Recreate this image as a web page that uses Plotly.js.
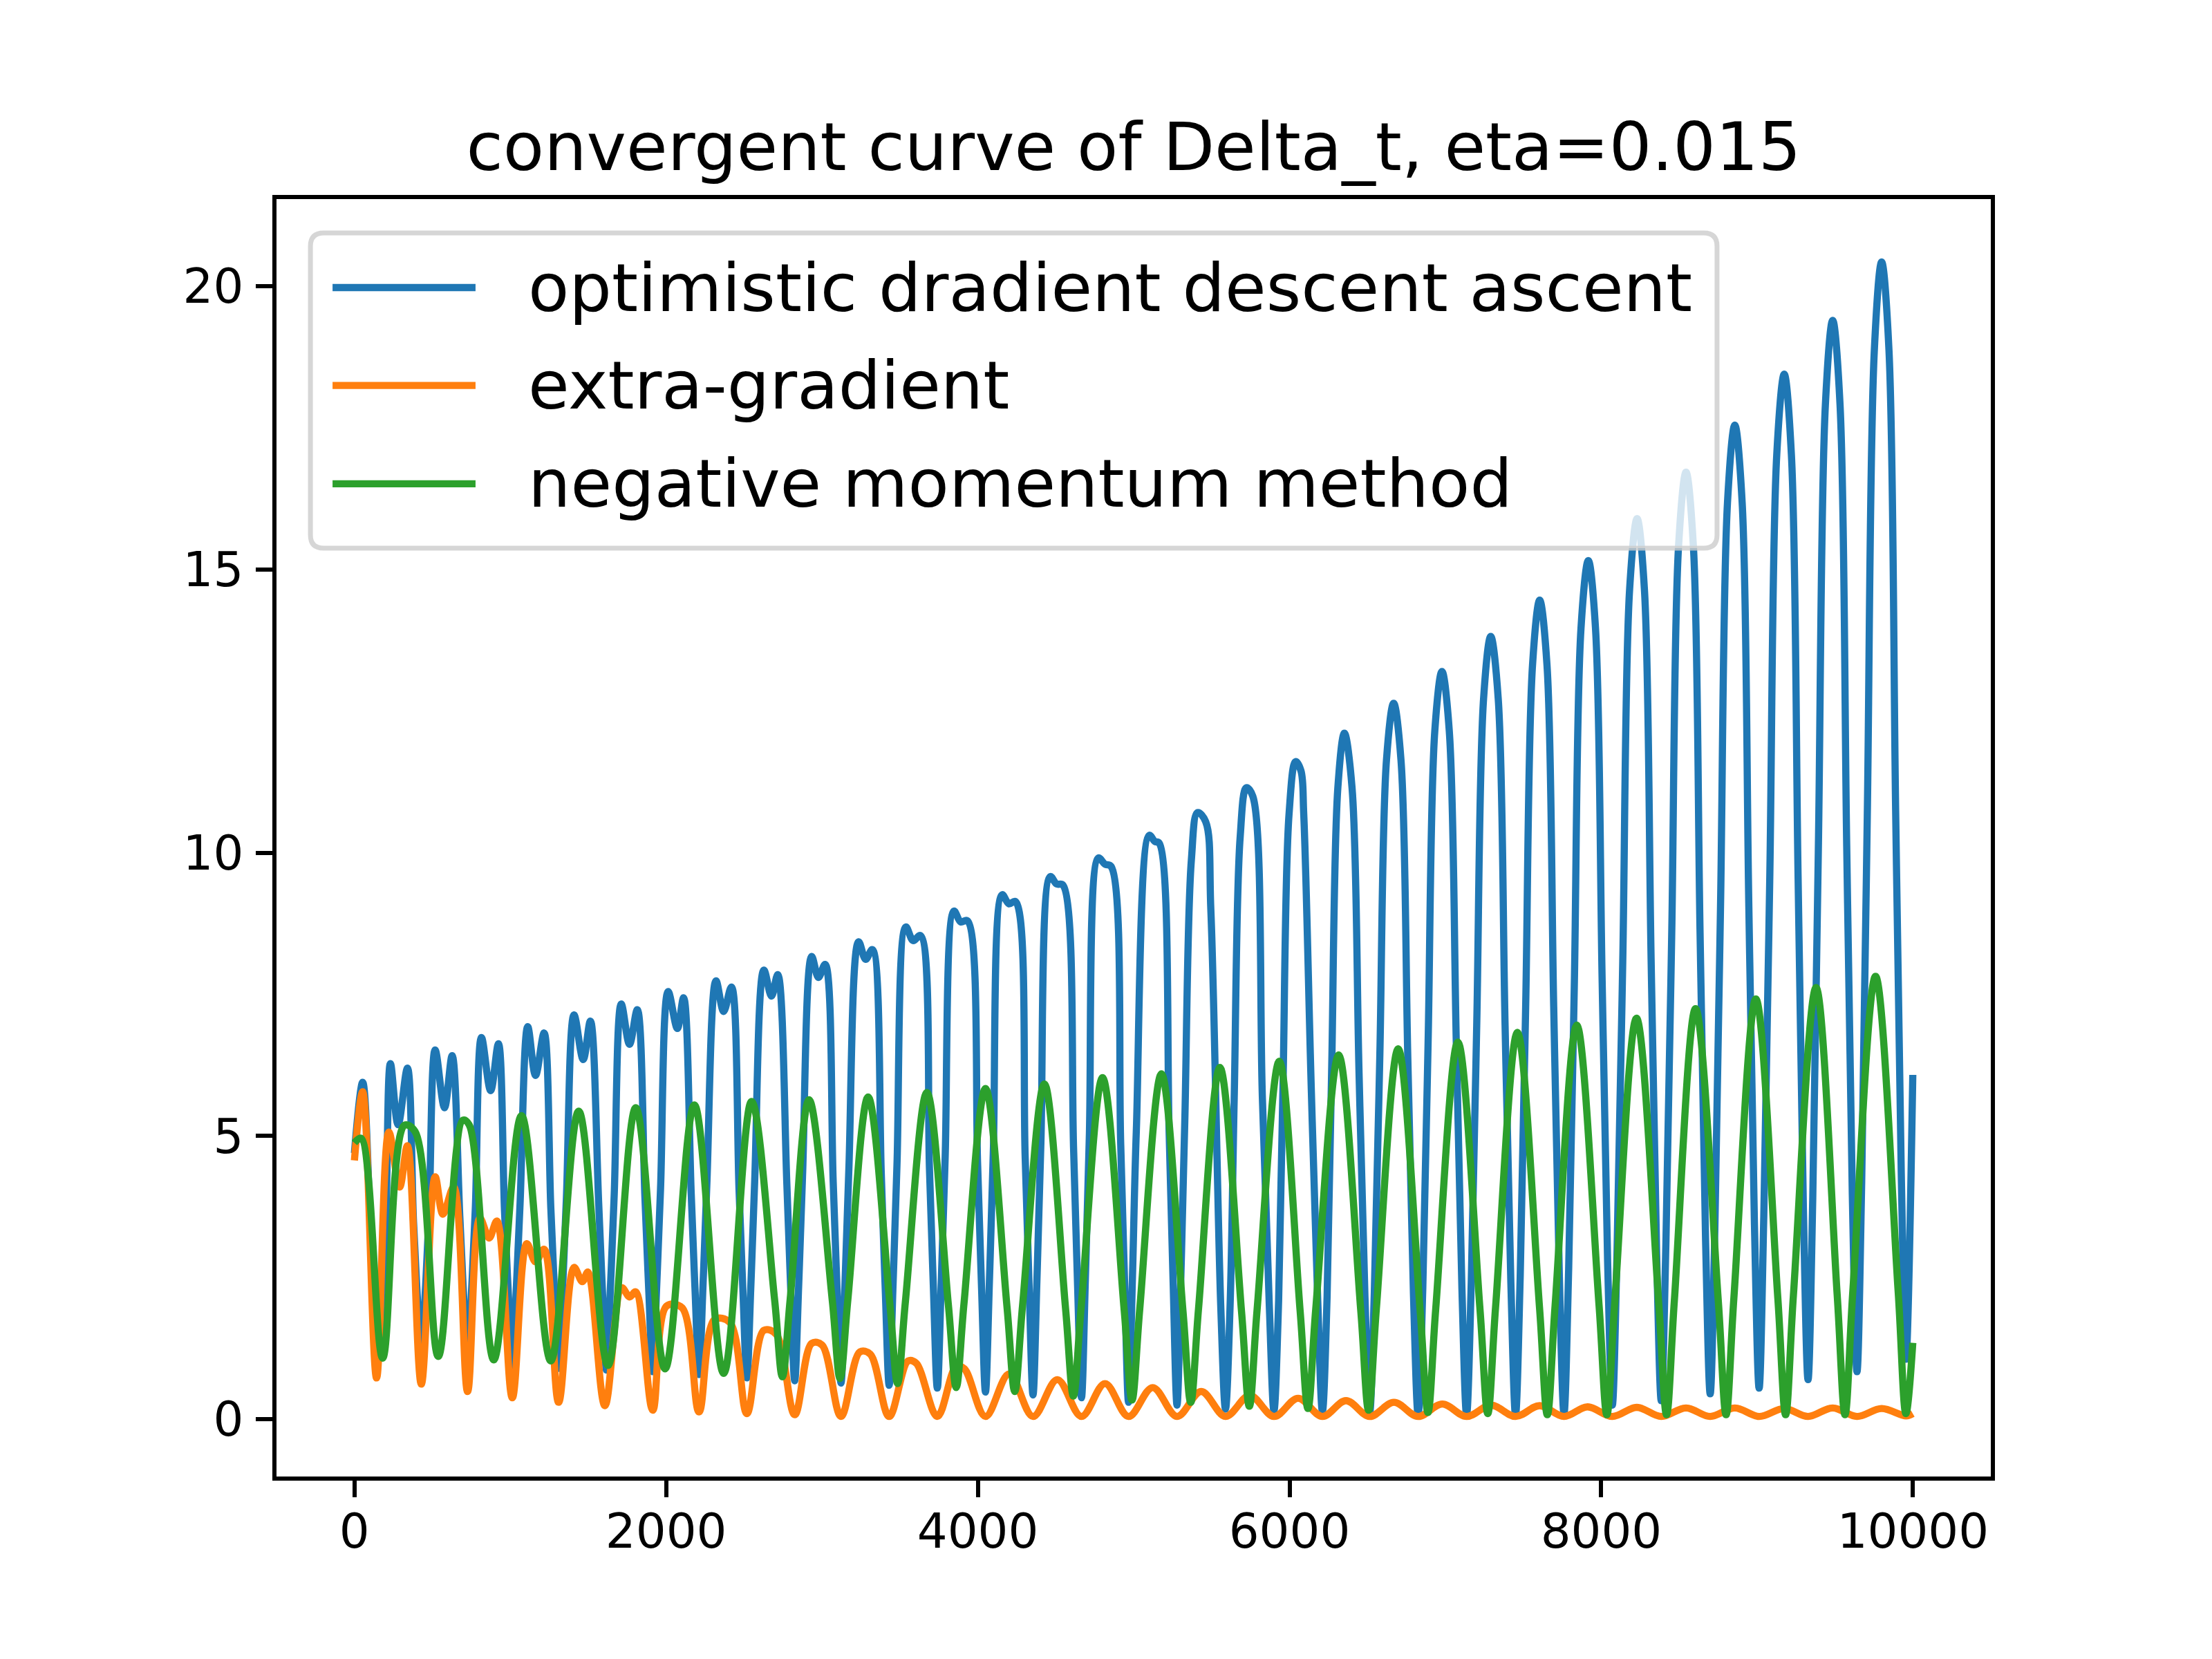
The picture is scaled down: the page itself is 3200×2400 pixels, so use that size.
<!DOCTYPE html>
<html>
<head>
<meta charset="utf-8">
<script src="https://cdn.plot.ly/plotly-3.0.1.min.js"></script>
<style>
  body { margin: 0; background: #fff; }
  #graph { width: 3200px; height: 2400px; }
</style>
</head>
<body>
<div id="graph"></div>
<script>
// values: peaks, dips, troughs and a few flank points per swing
var odaX = [0, 53, 102, 127, 152, 177, 202,
  231, 280, 340, 379, 404, 429, 454, 479,
  518, 578, 627, 676, 701, 726, 751, 776,
  815, 874, 924, 963, 988, 1013, 1038, 1063,
  1112, 1162, 1217, 1260, 1285, 1310, 1335, 1360,
  1409, 1468, 1514, 1567, 1592, 1617, 1642, 1667,
  1712, 1765, 1815, 1864, 1889, 1914, 1939, 1964,
  2013, 2072, 2112, 2161, 2186, 2211, 2236, 2261,
  2320, 2369, 2419, 2468, 2493, 2518, 2543, 2568,
  2627, 2676, 2716, 2775, 2800, 2825, 2850, 2875,
  2934, 2977, 3020, 3072, 3097, 3122, 3147, 3172,
  3235, 3280, 3323, 3381, 3406, 3431, 3456, 3481,
  3538, 3585, 3632, 3690, 3715, 3740, 3765, 3790,
  3847, 3890, 3933, 3999, 4024, 4049, 4074, 4099,
  4156, 4199, 4242, 4304, 4329, 4354, 4379, 4404,
  4465, 4505, 4546, 4615, 4640, 4665, 4690, 4715,
  4774, 4815, 4855, 4917, 4942, 4967, 4992, 5017,
  5100, 5135, 5164, 5228, 5253, 5278, 5303, 5328,
  5370, 5410, 5462, 5495, 5559, 5589, 5619,
  5645, 5683, 5723, 5764, 5826, 5870, 5900, 5930,
  5958, 5997, 6039, 6073, 6091, 6139, 6181, 6211, 6241,
  6270, 6310, 6352, 6401, 6446, 6484, 6514, 6544,
  6579, 6622, 6668, 6715, 6759, 6795, 6825, 6855,
  6889, 6932, 6978, 7025, 7070, 7106, 7136, 7166,
  7201, 7245, 7291, 7339, 7383, 7420, 7450, 7480,
  7515, 7559, 7605, 7652, 7695, 7731, 7761, 7791,
  7827, 7870, 7917, 7963, 8006, 8041, 8071, 8101,
  8138, 8182, 8230, 8277, 8320, 8355, 8385, 8415,
  8452, 8496, 8544, 8591, 8634, 8669, 8699, 8729,
  8765, 8810, 8857, 8904, 8947, 8983, 9013, 9043,
  9081, 9126, 9174, 9220, 9263, 9297, 9327, 9357,
  9393, 9438, 9485, 9532, 9575, 9611, 9641, 9671,
  9707, 9752, 9799, 9846, 9889, 9925, 9955, 9999];
var odaY = [4.7, 5.95, 3.43, 2.17, 1.1, 2.24, 3.59,
  6.28, 5.2, 6.2, 3.5, 2.14, 1.0, 2.21, 3.65,
  6.52, 5.5, 6.42, 3.59, 2.17, 0.97, 2.24, 3.74,
  6.74, 5.8, 6.63, 3.68, 2.2, 0.95, 2.27, 3.82,
  6.93, 6.07, 6.82, 3.74, 2.2, 0.9, 2.27, 3.9,
  7.14, 6.35, 7.03, 3.83, 2.23, 0.87, 2.29, 3.97,
  7.33, 6.62, 7.23, 3.91, 2.25, 0.84, 2.32, 4.06,
  7.55, 6.9, 7.44, 3.98, 2.25, 0.79, 2.32, 4.13,
  7.74, 7.2, 7.63, 4.04, 2.25, 0.73, 2.31, 4.19,
  7.93, 7.47, 7.85, 4.12, 2.26, 0.68, 2.33, 4.28,
  8.17, 7.8, 8.03, 4.19, 2.27, 0.64, 2.35, 4.38,
  8.43, 8.12, 8.29, 4.29, 2.29, 0.6, 2.38, 4.48,
  8.69, 8.45, 8.54, 4.39, 2.31, 0.55, 2.4, 4.59,
  8.97, 8.78, 8.8, 4.47, 2.31, 0.48, 2.41, 4.69,
  9.26, 9.1, 9.14, 4.61, 2.35, 0.43, 2.44, 4.82,
  9.58, 9.45, 9.43, 4.72, 2.37, 0.38, 2.48, 4.95,
  9.91, 9.8, 9.76, 4.84, 2.38, 0.3, 2.5, 5.1,
  10.31, 10.2, 10.17, 5.01, 2.43, 0.25, 2.55, 5.27,
  9.87, 10.71, 10.55, 9.0, 1.97, 0.18, 2.05,
  5.67, 10.27, 11.15, 11.0, 5.65, 2.02, 0.15, 2.1,
  5.88, 10.69, 11.61, 11.45, 10.69, 5.88, 2.09, 0.14, 2.17,
  6.13, 11.15, 12.11, 11.15, 6.11, 2.15, 0.11, 2.24,
  6.38, 11.64, 12.64, 11.64, 6.36, 2.22, 0.08, 2.31,
  6.64, 12.15, 13.2, 12.15, 6.64, 2.31, 0.08, 2.42,
  6.95, 12.72, 13.82, 12.72, 6.95, 2.42, 0.08, 2.52,
  7.27, 13.31, 14.46, 13.31, 7.28, 2.54, 0.1, 2.66,
  7.63, 13.96, 15.16, 13.97, 7.71, 2.78, 0.25, 2.91,
  8.08, 14.65, 15.9, 14.65, 8.12, 2.98, 0.33, 3.12,
  8.53, 15.41, 16.72, 15.42, 8.59, 3.22, 0.45, 3.36,
  9.0, 16.18, 17.55, 16.19, 9.05, 3.44, 0.55, 3.59,
  9.5, 17.02, 18.45, 17.03, 9.58, 3.72, 0.7, 3.88,
  10.05, 17.9, 19.4, 17.92, 10.12, 3.96, 0.84, 4.17,
  10.64, 18.86, 20.43, 18.88, 10.75, 4.35, 1.06, 6.08];

var egX = [0, 53, 142,
  221, 290, 340, 429, 518, 568, 637, 726, 805, 864, 914, 1013,
  1106, 1162, 1217, 1310, 1409, 1462, 1498, 1607, 1716, 1765, 1805, 1914,
  2003, 2102, 2211, 2310, 2409, 2518, 2627, 2706, 2825, 2934, 3001, 3122,
  3243, 3310, 3431, 3552, 3605, 3740, 3861, 3914, 4049,
  4201, 4354, 4510, 4665, 4816, 4967, 5122, 5278, 5433, 5589, 5745, 5900,
  6055, 6211, 6362, 6514, 6670, 6825, 6980, 7136, 7293, 7450, 7605, 7761,
  7912, 8071, 8228, 8385, 8544, 8699, 8857, 9013, 9174, 9327, 9485, 9641,
  9799, 9955, 9999];
var egY = [4.57, 5.78, 0.73,
  5.07, 4.1, 4.83, 0.62, 4.28, 3.62, 4.1, 0.49, 3.55, 3.2, 3.5, 0.38,
  3.1, 2.78, 3.0, 0.3, 2.68, 2.43, 2.6, 0.24, 2.32, 2.16, 2.25, 0.16,
  2.0, 1.97, 0.13, 1.76, 1.71, 0.1, 1.57, 1.5, 0.08, 1.34, 1.31, 0.05,
  1.19, 1.15, 0.05, 1.03, 0.99, 0.05, 0.93, 0.89, 0.05,
  0.8, 0.05, 0.7, 0.05, 0.63, 0.05, 0.56, 0.05, 0.49, 0.05, 0.42, 0.05,
  0.37, 0.05, 0.33, 0.05, 0.3, 0.05, 0.27, 0.05, 0.25, 0.05, 0.24, 0.05,
  0.22, 0.05, 0.21, 0.05, 0.2, 0.05, 0.2, 0.05, 0.19, 0.05, 0.2, 0.05,
  0.19, 0.06, 0.1];

var nmX = [0, 43, 181, 320, 389, 538, 696, 736, 894, 1072, 1260, 1439, 1627,
  1805, 1993, 2181, 2369, 2548,
  2696, 2746, 2796, 2917, 3066, 3116, 3166, 3296, 3435, 3485, 3535, 3673,
  3811, 3861, 3911, 4049, 4187, 4237, 4287, 4427, 4563, 4613, 4663, 4800,
  4939, 4989, 5039, 5178, 5316, 5366, 5416, 5553, 5692, 5742, 5792, 5934,
  6068, 6118, 6168, 6315, 6457, 6507, 6557, 6697, 6838, 6888, 6938, 7080,
  7222, 7272, 7322, 7462, 7604, 7654, 7704, 7843, 7986, 8036, 8086, 8226,
  8369, 8419, 8469, 8605, 8751, 8801, 8851, 8992, 9133, 9183, 9233, 9378,
  9514, 9564, 9614, 9760, 9905, 9955, 9999];
var nmY = [4.88, 4.96, 1.08, 5.19, 5.08, 1.11, 5.28, 5.2, 1.05, 5.36, 1.03, 5.44, 0.95,
  5.5, 0.89, 5.55, 0.81, 5.61,
  2.11, 0.75, 2.12, 5.64, 2.1, 0.72, 2.11, 5.69, 2.05, 0.63, 2.07, 5.77,
  2.02, 0.56, 2.04, 5.84, 1.99, 0.49, 2.01, 5.92, 1.95, 0.41, 1.98, 6.03,
  1.93, 0.34, 1.95, 6.1, 1.92, 0.3, 1.95, 6.21, 1.9, 0.23, 1.94, 6.32,
  1.91, 0.19, 1.94, 6.43, 1.92, 0.16, 1.95, 6.54, 1.92, 0.12, 1.95, 6.66,
  1.94, 0.1, 1.98, 6.83, 1.97, 0.08, 2.01, 6.96, 2.01, 0.08, 2.04, 7.08,
  2.04, 0.08, 2.09, 7.25, 2.09, 0.08, 2.14, 7.42, 2.14, 0.08, 2.19, 7.62,
  2.19, 0.08, 2.25, 7.82, 2.26, 0.1, 1.35];

var seriesNames = ['optimistic dradient descent ascent', 'extra-gradient', 'negative momentum method'];
var seriesColors = ['#1f77b4', '#ff7f0e', '#2ca02c'];
var xTicks = [0, 2000, 4000, 6000, 8000, 10000];
var yTicks = [0, 5, 10, 15, 20];

var font = 'DejaVu Sans, Liberation Sans, sans-serif';
var lw = 10.4;

var traces = [[odaX, odaY], [egX, egY], [nmX, nmY]].map(function(d, i) {
  return {
    x: d[0], y: d[1],
    mode: 'lines',
    name: seriesNames[i],
    line: {color: seriesColors[i], width: lw, shape: 'spline', smoothing: 1},
    showlegend: false
  };
});

// hand made legend, matplotlib style (rounded frame, long handles)
var bx0 = 0.0198, bx1 = 0.8403, by0 = 0.7267, by1 = 0.9735, rx = 0.0077, ry = 0.0103;
var boxPath = 'M' + (bx0 + rx) + ',' + by1 + ' L' + (bx1 - rx) + ',' + by1 +
  ' Q' + bx1 + ',' + by1 + ' ' + bx1 + ',' + (by1 - ry) +
  ' L' + bx1 + ',' + (by0 + ry) +
  ' Q' + bx1 + ',' + by0 + ' ' + (bx1 - rx) + ',' + by0 +
  ' L' + (bx0 + rx) + ',' + by0 +
  ' Q' + bx0 + ',' + by0 + ' ' + bx0 + ',' + (by0 + ry) +
  ' L' + bx0 + ',' + (by1 - ry) +
  ' Q' + bx0 + ',' + by1 + ' ' + (bx0 + rx) + ',' + by1 + ' Z';

var shapes = [{
  type: 'path', xref: 'paper', yref: 'paper', path: boxPath, layer: 'above',
  fillcolor: 'rgba(255,255,255,0.8)', line: {color: 'rgba(204,204,204,0.8)', width: 7}
}];
var annotations = [];
var rowY = [0.9307, 0.8541, 0.7771];
seriesNames.forEach(function(name, i) {
  shapes.push({
    type: 'line', xref: 'paper', yref: 'paper', layer: 'above',
    x0: 0.0327, x1: 0.1161, y0: rowY[i], y1: rowY[i],
    line: {color: seriesColors[i], width: lw}
  });
  annotations.push({
    xref: 'paper', yref: 'paper', x: 0.146, y: rowY[i],
    xanchor: 'left', yanchor: 'middle', showarrow: false,
    text: name, font: {family: font, size: 97, color: '#000'}
  });
});

var axisCommon = {
  showgrid: false, zeroline: false,
  showline: true, mirror: true, linecolor: '#000', linewidth: 5.6,
  ticks: 'outside', ticklen: 24, tickwidth: 5.6, tickcolor: '#000',
  tickfont: {family: font, size: 69, color: '#000'}
};

var layout = {
  width: 3200, height: 2400,
  margin: {l: 400, r: 320, t: 288, b: 264},
  paper_bgcolor: '#fff', plot_bgcolor: '#fff',
  title: {
    text: 'convergent curve of Delta_t, eta=0.015',
    font: {family: font, size: 97, color: '#000'},
    x: 0.5125, xanchor: 'center', yref: 'container', y: 0.9117, yanchor: 'middle'
  },
  xaxis: Object.assign({}, axisCommon, {
    range: [-500, 10499.5], tickmode: 'array', tickvals: xTicks,
    ticktext: xTicks.map(String), ticklabelstandoff: -10
  }),
  yaxis: Object.assign({}, axisCommon, {
    range: [-1.01, 21.54], tickmode: 'array', tickvals: yTicks,
    ticktext: yTicks.map(String), ticklabelstandoff: 4
  }),
  shapes: shapes,
  annotations: annotations
};

Plotly.newPlot('graph', traces, layout, {displayModeBar: false});
</script>
</body>
</html>
